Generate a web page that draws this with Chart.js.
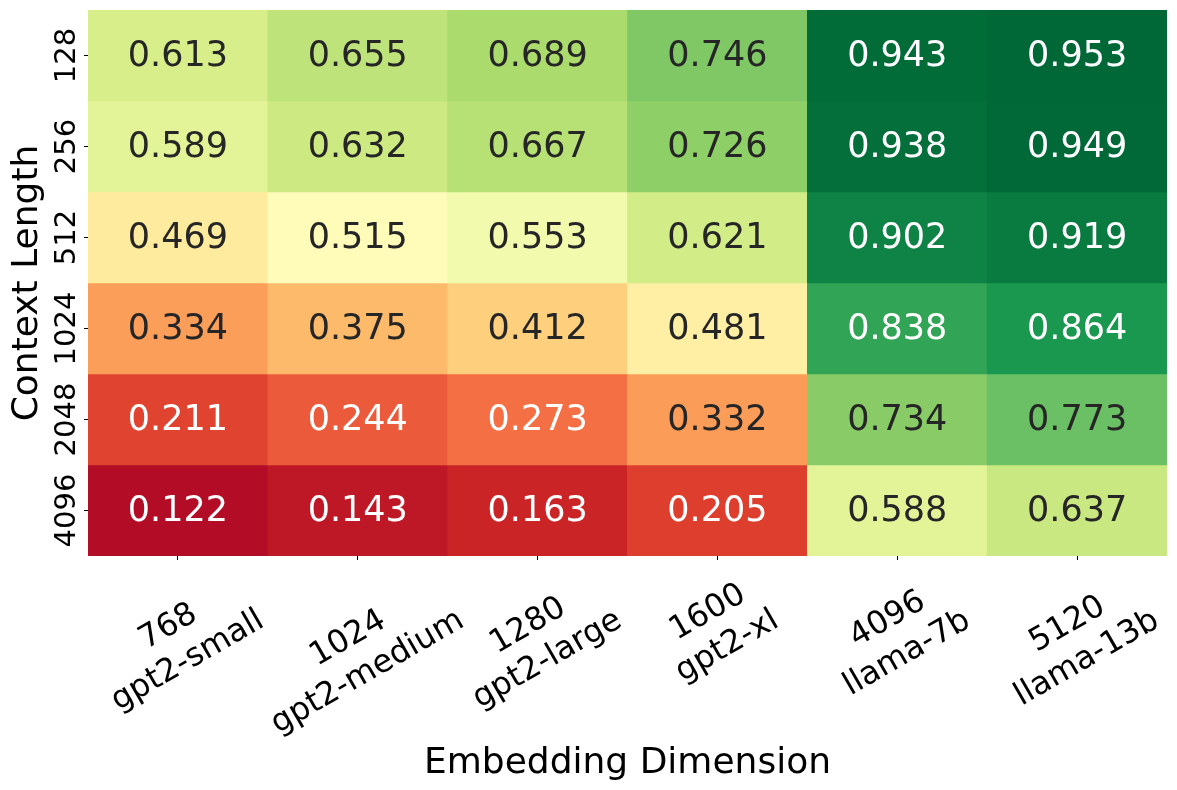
<!DOCTYPE html>
<html>
<head>
<meta charset="utf-8">
<script src="https://cdn.jsdelivr.net/npm/chart.js@4/dist/chart.umd.min.js"></script>
<style>
  html, body { margin: 0; padding: 0; background: #fff; }
  #wrap { width: 1177px; height: 790px; position: relative; }
</style>
</head>
<body>
<div id="wrap"><canvas id="heatmap"></canvas></div>
<script>
// Rows (top to bottom) and columns of the heatmap
const contextLengths = ["128", "256", "512", "1024", "2048", "4096"];
const embedDims = ["768", "1024", "1280", "1600", "4096", "5120"];
const modelNames = ["gpt2-small", "gpt2-medium", "gpt2-large", "gpt2-xl", "llama-7b", "llama-13b"];

// Scores per context length, one value per column
const row128 = [0.613, 0.655, 0.689, 0.746, 0.943, 0.953];
const row256 = [0.589, 0.632, 0.667, 0.726, 0.938, 0.949];
const row512 = [0.469, 0.515, 0.553, 0.621, 0.902, 0.919];
const row1024 = [0.334, 0.375, 0.412, 0.481, 0.838, 0.864];
const row2048 = [0.211, 0.244, 0.273, 0.332, 0.734, 0.773];
const row4096 = [0.122, 0.143, 0.163, 0.205, 0.588, 0.637];
const scoreRows = [row128, row256, row512, row1024, row2048, row4096];

const vmin = 0.1;
const vmax = 0.95;

// RdYlGn stops (matplotlib)
const rdylgn = ["#a50026", "#d73027", "#f46d43", "#fdae61", "#fee08b", "#ffffbf",
                "#d9ef8b", "#a6d96a", "#66bd63", "#1a9850", "#006837"];

function hexToRgb(h) {
    return [parseInt(h.slice(1, 3), 16), parseInt(h.slice(3, 5), 16), parseInt(h.slice(5, 7), 16)];
}

function cmap(v) {
    let t = (v - vmin) / (vmax - vmin);
    t = Math.max(0, Math.min(1, t));
    const pos = t * (rdylgn.length - 1);
    const i = Math.min(Math.floor(pos), rdylgn.length - 2);
    const f = pos - i;
    const a = hexToRgb(rdylgn[i]);
    const b = hexToRgb(rdylgn[i + 1]);
    return a.map((c, k) => Math.round(c + (b[k] - c) * f));
}

function luminance(rgb) {
    const lin = rgb.map(c => {
        c = c / 255;
        return c <= 0.03928 ? c / 12.92 : Math.pow((c + 0.055) / 1.055, 2.4);
    });
    return 0.2126 * lin[0] + 0.7152 * lin[1] + 0.0722 * lin[2];
}

const nRows = contextLengths.length;

// one floating-bar dataset per row, row 0 at the top
const datasets = scoreRows.map((vals, r) => ({
    label: contextLengths[r],
    data: vals.map(() => [nRows - 1 - r, nRows - r]),
    scores: vals,
    backgroundColor: vals.map(v => `rgb(${cmap(v).join(",")})`),
    borderWidth: 0,
    barPercentage: 1,
    categoryPercentage: 1,
    grouped: false
}));

const FONT = "'DejaVu Sans', 'Liberation Sans', sans-serif";

const textPlugin = {
    id: "heatText",
    afterDraw(chart) {
        const ctx = chart.ctx;
        const xs = chart.scales.x;
        const ys = chart.scales.y;
        const area = chart.chartArea;
        ctx.save();

        // cell annotations
        ctx.font = `35px ${FONT}`;
        ctx.textAlign = "center";
        ctx.textBaseline = "alphabetic";
        chart.data.datasets.forEach((ds, di) => {
            const meta = chart.getDatasetMeta(di);
            meta.data.forEach((el, j) => {
                const v = ds.scores[j];
                const lum = luminance(cmap(v));
                ctx.fillStyle = lum > 0.408 ? "#262626" : "#ffffff";
                const cy = (el.y + el.base) / 2;
                ctx.fillText(v.toFixed(3), el.x, cy - 2 + 0.365 * 35);
            });
        });

        // y tick labels (rotated)
        ctx.fillStyle = "#000";
        ctx.font = `29px ${FONT}`;
        contextLengths.forEach((lab, r) => {
            const y = ys.getPixelForValue(nRows - 0.5 - r);
            ctx.save();
            ctx.translate(area.left - 13, y);
            ctx.rotate(-Math.PI / 2);
            ctx.textAlign = "center";
            ctx.fillText(lab, 0, 0);
            ctx.restore();
        });

        // x tick labels: two lines rotated 30 degrees
        const ang = Math.PI / 6;
        const xf = 32;
        ctx.font = `${xf}px ${FONT}`;
        embedDims.forEach((dim, j) => {
            const lines = [dim, modelNames[j]];
            const w = Math.max(...lines.map(s => ctx.measureText(s).width));
            const x = xs.getPixelForValue(j) - 1.5;
            const y = area.bottom + 42.5 + w * 0.25;
            ctx.save();
            ctx.translate(x, y);
            ctx.rotate(-ang);
            ctx.textAlign = "center";
            ctx.fillText(lines[0], 0, -19.5 + 0.365 * xf);
            ctx.fillText(lines[1], 0, 19.5 + 0.365 * xf);
            ctx.restore();
        });

        // axis titles
        ctx.font = `36px ${FONT}`;
        ctx.textAlign = "center";
        ctx.fillText("Embedding Dimension", (area.left + area.right) / 2, 773);
        ctx.save();
        ctx.translate(37, (area.top + area.bottom) / 2);
        ctx.rotate(-Math.PI / 2);
        ctx.fillText("Context Length", 0, 0);
        ctx.restore();

        ctx.restore();
    }
};

new Chart(document.getElementById("heatmap"), {
    type: "bar",
    data: {
        labels: embedDims,
        datasets: datasets
    },
    options: {
        responsive: true,
        maintainAspectRatio: false,
        animation: false,
        events: [],
        layout: {
            padding: { top: 10, right: 10, left: 0, bottom: 0 }
        },
        plugins: {
            legend: { display: false },
            tooltip: { enabled: false }
        },
        scales: {
            x: {
                type: "category",
                offset: true,
                border: { display: false },
                grid: {
                    offset: false,
                    drawOnChartArea: false,
                    drawTicks: true,
                    tickLength: 4,
                    tickColor: "#000",
                    tickWidth: 1
                },
                ticks: { display: false },
                afterFit: s => { s.height = 234; }
            },
            y: {
                type: "linear",
                min: 0,
                max: nRows,
                border: { display: false },
                grid: {
                    drawOnChartArea: false,
                    drawTicks: true,
                    tickLength: 4,
                    tickColor: "#000",
                    tickWidth: 1
                },
                ticks: { display: false },
                afterBuildTicks: s => {
                    s.ticks = contextLengths.map((_, r) => ({ value: r + 0.5 }));
                },
                afterFit: s => { s.width = 88; }
            }
        }
    },
    plugins: [textPlugin]
});
</script>
</body>
</html>
